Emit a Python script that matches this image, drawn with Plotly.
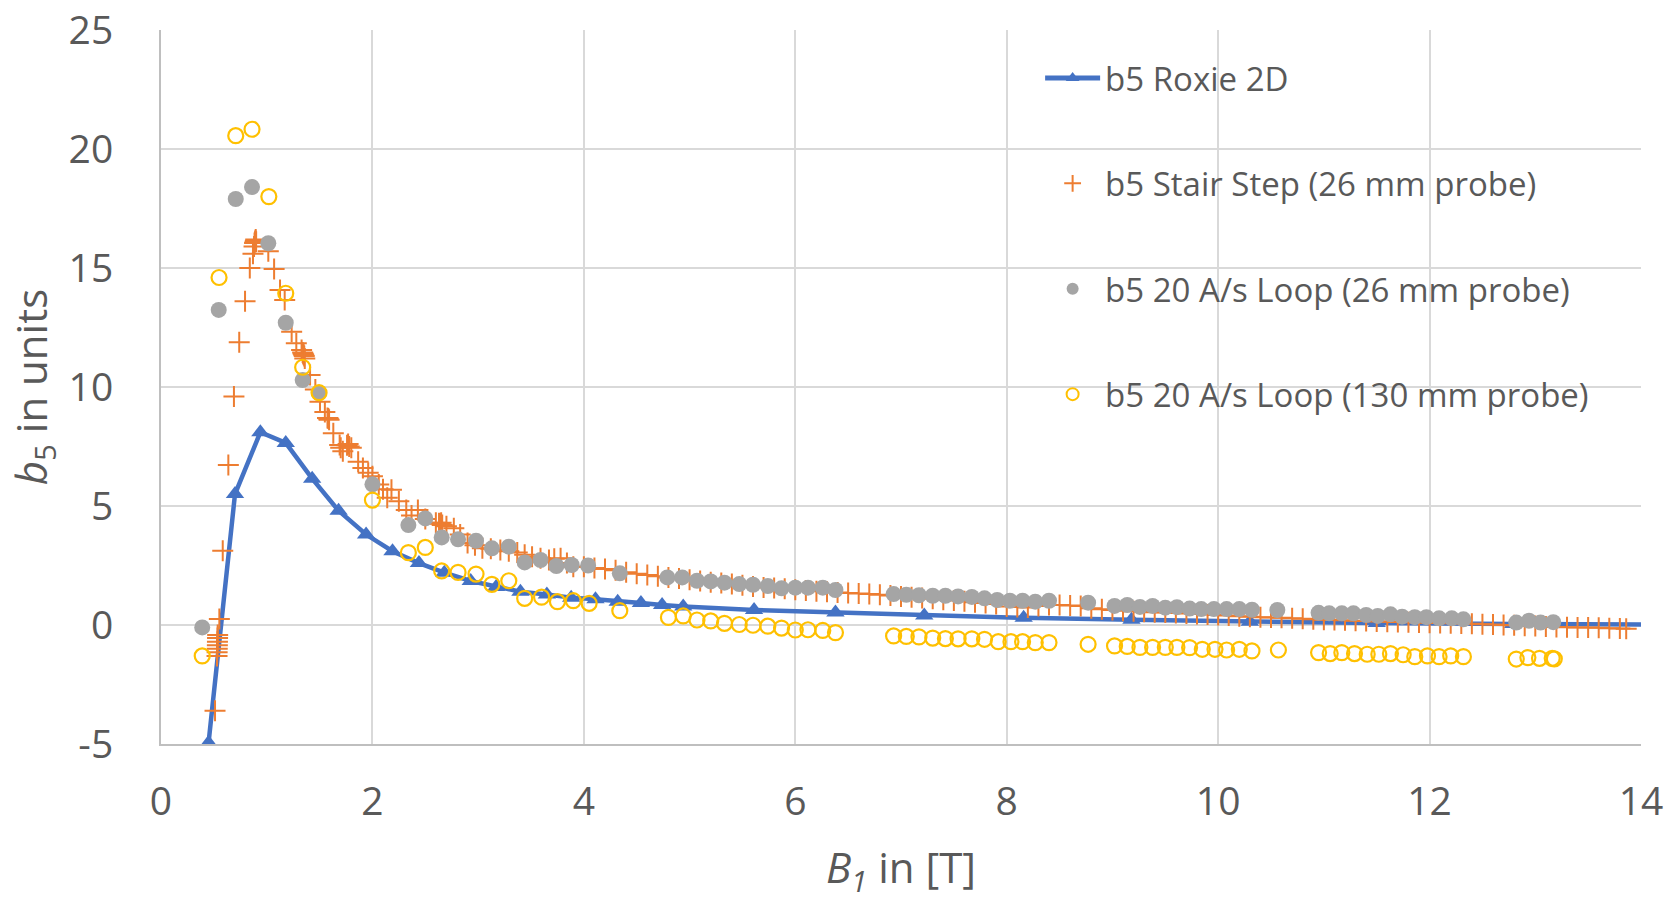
import plotly.graph_objects as go

# ---------------- data ----------------
roxie_B = [0.45, 0.70, 0.94, 1.18, 1.43, 1.68, 1.94, 2.19, 2.44, 2.68, 2.93, 3.17, 3.40,
           3.65, 3.88, 4.11, 4.32, 4.54, 4.74, 4.94, 5.61, 6.38, 7.22, 8.16, 9.18, 10.30,
           11.50, 12.79, 14.2]
roxie_b5 = [-4.95, 5.5, 8.1, 7.65, 6.15, 4.8, 3.8, 3.1, 2.6, 2.2, 1.85, 1.6, 1.4,
            1.28, 1.15, 1.08, 0.98, 0.92, 0.84, 0.78, 0.63, 0.52, 0.4, 0.3, 0.22, 0.14,
            0.08, 0.04, 0.02]

stair_B = [0.511, 0.530, 0.531, 0.532, 0.533, 0.534, 0.535, 0.536, 0.552, 0.584, 0.637,
           0.69, 0.74, 0.795, 0.84, 0.87, 0.88, 0.885, 0.89, 0.893, 0.896, 0.90, 1.015,
           1.07, 1.126, 1.17, 1.236, 1.28, 1.33, 1.34, 1.345, 1.35, 1.355, 1.36, 1.41,
           1.46, 1.504, 1.55, 1.575, 1.583, 1.59, 1.63, 1.69, 1.70, 1.72, 1.76, 1.77,
           1.78, 1.80, 1.865, 1.91, 1.96, 2.0, 2.06, 2.10, 2.14, 2.18, 2.25, 2.32, 2.37,
           2.43, 2.50, 2.60, 2.63, 2.64, 2.65, 2.66, 2.70, 2.77, 2.83, 2.90, 2.97, 3.04,
           3.12, 3.21, 3.29, 3.37, 3.44, 3.51, 3.59, 3.67, 3.72, 3.78, 3.84, 3.90,
           4.0, 4.1, 4.2, 4.3, 4.4, 4.5, 4.6, 4.7, 4.8, 4.9, 5.0, 5.1, 5.2, 5.3, 5.4,
           5.5, 5.6, 5.7, 5.8, 5.9, 6.0, 6.1, 6.2, 6.3, 6.4, 6.5, 6.6, 6.7, 6.8, 6.9,
           7.0, 7.1, 7.2, 7.3, 7.4, 7.5, 7.6, 7.7, 7.8, 7.9, 8.0, 8.1, 8.2, 8.3, 8.4,
           8.5, 8.6, 8.7, 8.8, 8.9, 9.0, 9.1, 9.2, 9.3, 9.4, 9.5, 9.6, 9.7, 9.8, 9.9,
           10.0, 10.1, 10.2, 10.3, 10.4, 10.5, 10.6, 10.7, 10.8, 10.9, 11.0, 11.1, 11.2,
           11.3, 11.4, 11.5, 11.6, 11.7, 11.8, 11.9, 12.0, 12.1, 12.2, 12.3, 12.4, 12.5,
           12.6, 12.7, 12.8, 12.9, 13.0, 13.1, 13.2, 13.3, 13.4, 13.5, 13.6, 13.7, 13.8,
           13.86]
stair_b5 = [-3.6, -1.3, -1.15, -1.0, -0.85, -0.7, -0.55, -0.42, 0.25, 3.12, 6.72,
            9.6, 11.88, 13.6, 15.0, 15.6, 15.9, 16.05, 16.1, 16.15, 16.2, 16.1, 15.7,
            14.96, 14.08, 13.66, 12.32, 11.84, 11.55, 11.45, 11.4, 11.35, 11.3, 11.2, 10.5,
            9.9, 9.38, 8.95, 8.7, 8.68, 8.62, 8.06, 7.56, 7.45, 7.3, 7.55, 7.6,
            7.5, 7.45, 6.86, 6.6, 6.4, 6.25, 5.9, 5.7, 5.35, 5.68, 5.2, 4.83, 4.6,
            4.83, 4.45, 4.3, 4.27, 4.25, 4.3, 4.2, 4.15, 4.06, 3.8, 3.45, 3.35, 3.22,
            3.2, 3.15, 3.1, 3.05, 2.95, 2.87, 2.8, 2.73, 2.78, 2.8, 2.6, 2.45,
            2.45, 2.4, 2.35, 2.3, 2.22, 2.15, 2.1, 2.05, 2.0, 1.95, 1.9, 1.85, 1.8, 1.76, 1.72,
            1.67, 1.62, 1.58, 1.55, 1.52, 1.48, 1.45, 1.42, 1.4, 1.37, 1.34, 1.32, 1.3, 1.27, 1.24,
            1.2, 1.17, 1.13, 1.1, 1.06, 1.03, 1.0, 0.96, 0.92, 0.88, 0.78, 0.76, 0.74, 0.8, 0.84,
            0.84, 0.82, 0.8, 0.7, 0.66, 0.63, 0.6, 0.58, 0.56, 0.54, 0.52, 0.5, 0.48, 0.46, 0.44,
            0.42, 0.4, 0.37, 0.35, 0.33, 0.31, 0.3, 0.28, 0.26, 0.24, 0.22, 0.21, 0.2,
            0.18, 0.17, 0.15, 0.14, 0.13, 0.12, 0.1, 0.09, 0.08, 0.07, 0.06, 0.05, 0.03,
            0.02, 0.0, -0.01, -0.03, -0.04, -0.06, -0.08, -0.09, -0.1, -0.11, -0.12, -0.14, -0.15,
            -0.16]

loop26_B = [0.39, 0.546, 0.707, 0.861, 1.015, 1.18, 1.34, 1.495, 2.0, 2.34, 2.5, 2.655,
            2.81, 2.98, 3.13, 3.29, 3.44, 3.59, 3.74, 3.885, 4.04, 4.34, 4.79, 4.93, 5.07,
            5.2, 5.33, 5.47, 5.60, 5.74, 5.87, 6.0, 6.12, 6.26, 6.38, 6.93, 7.05, 7.17,
            7.30, 7.42, 7.54, 7.67, 7.79, 7.91, 8.03, 8.15, 8.27, 8.40, 8.77, 9.02, 9.14,
            9.26, 9.38, 9.50, 9.61, 9.73, 9.84, 9.96, 10.08, 10.2, 10.32, 10.56, 10.95,
            11.05, 11.17, 11.28, 11.40, 11.51, 11.63, 11.74, 11.86, 11.97, 12.09, 12.21,
            12.32, 12.82, 12.94, 13.05, 13.17]
loop26_b5 = [-0.1, 13.24, 17.9, 18.4, 16.04, 12.7, 10.29, 9.76, 5.91, 4.2, 4.48, 3.68,
             3.6, 3.54, 3.22, 3.29, 2.63, 2.73, 2.48, 2.52, 2.5, 2.17, 2.0, 2.0, 1.86,
             1.83, 1.78, 1.72, 1.69, 1.64, 1.54, 1.57, 1.57, 1.57, 1.47, 1.3, 1.27, 1.25,
             1.23, 1.23, 1.2, 1.18, 1.12, 1.05, 1.02, 1.02, 0.98, 1.02, 0.94, 0.8, 0.84,
             0.76, 0.8, 0.73, 0.75, 0.69, 0.67, 0.67, 0.67, 0.67, 0.64, 0.63, 0.51,
             0.49, 0.49, 0.49, 0.42, 0.38, 0.45, 0.35, 0.33, 0.33, 0.28, 0.28,
             0.24, 0.1, 0.18, 0.1, 0.12]

loop130_B = [0.39, 0.549, 0.707, 0.861, 1.02, 1.18, 1.34, 1.495, 2.0, 2.34, 2.5, 2.655,
             2.81, 2.98, 3.13, 3.29, 3.44, 3.6, 3.75, 3.9, 4.05, 4.34, 4.80, 4.94, 5.07,
             5.2, 5.33, 5.47, 5.6, 5.74, 5.87, 6.0, 6.12, 6.26, 6.38, 6.93, 7.05, 7.17,
             7.30, 7.42, 7.54, 7.67, 7.79, 7.92, 8.04, 8.15, 8.27, 8.40, 8.77, 9.02, 9.14,
             9.26, 9.38, 9.50, 9.61, 9.73, 9.85, 9.97, 10.08, 10.2, 10.32, 10.57, 10.95,
             11.06, 11.17, 11.29, 11.41, 11.52, 11.63, 11.75, 11.86, 11.98, 12.09, 12.2,
             12.32, 12.82, 12.93, 13.04, 13.16, 13.18]
loop130_b5 = [-1.3, 14.6, 20.56, 20.83, 18.0, 13.94, 10.83, 9.76, 5.25, 3.04, 3.26, 2.27,
              2.21, 2.14, 1.71, 1.86, 1.12, 1.17, 0.98, 1.02, 0.91, 0.6, 0.32, 0.38, 0.21,
              0.17, 0.07, 0.02, -0.01, -0.05, -0.13, -0.21, -0.2, -0.23, -0.32, -0.46, -0.48, -0.5,
              -0.55, -0.57, -0.58, -0.58, -0.6, -0.7, -0.7, -0.7, -0.74, -0.74, -0.81, -0.88, -0.9,
              -0.94, -0.94, -0.94, -0.94, -0.95, -1.02, -1.02, -1.05, -1.02, -1.09, -1.05, -1.16,
              -1.2, -1.16, -1.2, -1.23, -1.23, -1.2, -1.25, -1.33, -1.3, -1.33, -1.3,
              -1.33, -1.43, -1.37, -1.4, -1.4, -1.42]

x_ticks = [0, 2, 4, 6, 8, 10, 12, 14]
y_ticks = [-5, 0, 5, 10, 15, 20, 25]
y_ticktext = ["-5", "0", "5", "10", "15", "20", "25"]

assert len(roxie_B) == len(roxie_b5)
assert len(stair_B) == len(stair_b5)
assert len(loop26_B) == len(loop26_b5)
assert len(loop130_B) == len(loop130_b5)

# ---------------- figure ----------------
FONT = "Open Sans"
TXT = "#595959"
GRID = "#D9D9D9"

fig = go.Figure()
fig.add_trace(go.Scatter(
    x=roxie_B, y=roxie_b5, mode="lines+markers", name="b5 Roxie 2D", legendgroup="a",
    line=dict(color="#4472C4", width=4.5),
    marker=dict(symbol="triangle-up", size=16, color="#4472C4")))
fig.add_trace(go.Scatter(
    x=stair_B, y=stair_b5, mode="markers", name="b5 Stair Step (26 mm probe)", legendgroup="b",
    marker=dict(symbol="cross-thin", size=15, color="#ED7D31",
                line=dict(color="#ED7D31", width=2))))
fig.add_trace(go.Scatter(
    x=loop26_B, y=loop26_b5, mode="markers", name="b5 20 A/s Loop (26 mm probe)", legendgroup="c",
    marker=dict(symbol="circle", size=16, color="#A5A5A5")))
fig.add_trace(go.Scatter(
    x=loop130_B, y=loop130_b5, mode="markers", name="b5 20 A/s Loop (130 mm probe)", legendgroup="d",
    marker=dict(symbol="circle-open", size=15, color="#FFC000",
                line=dict(color="#FFC000", width=2.2))))

fig.update_layout(
    width=1673, height=901,
    margin=dict(l=161, r=32, t=30, b=157, autoexpand=False),
    plot_bgcolor="white", paper_bgcolor="white",
    font=dict(family=FONT, color=TXT),
    showlegend=True,
    legend=dict(x=0.594, y=0.972, xanchor="left", yanchor="top",
                font=dict(family=FONT, size=33, color=TXT), itemwidth=55,
                bgcolor="rgba(0,0,0,0)", tracegroupgap=59.5, itemsizing="constant"),
)
fig.update_xaxes(
    range=[0, 14], tickvals=x_ticks, showgrid=True, gridcolor=GRID, gridwidth=1.5,
    showline=True, linecolor="#BFBFBF", linewidth=2, zeroline=False, automargin=False,
    ticks="", tickfont=dict(family=FONT, size=39, color=TXT), ticklabelstandoff=22,
    title=dict(text="<i>B</i><sub><i>1</i></sub> in [T]",
               font=dict(family=FONT, size=42, color=TXT), standoff=33))
fig.update_yaxes(
    range=[-5, 25], tickvals=y_ticks, ticktext=y_ticktext, showgrid=True, gridcolor=GRID,
    gridwidth=1.5, showline=True, linecolor="#BFBFBF", linewidth=2, zeroline=False,
    automargin=False,
    ticks="", tickfont=dict(family=FONT, size=39, color=TXT), ticklabelstandoff=38,
    title=dict(text="<i>b</i><sub>5</sub> in units",
               font=dict(family=FONT, size=42, color=TXT), standoff=8))

fig.write_html("out.html")
